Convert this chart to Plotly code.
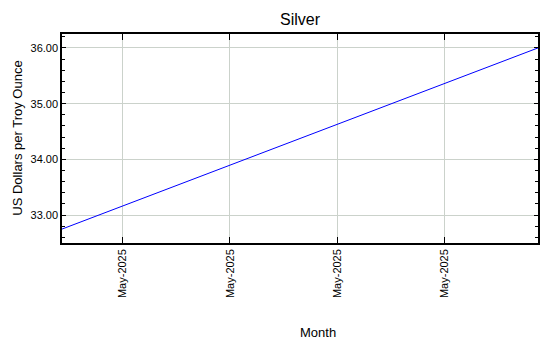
import plotly.graph_objects as go

# Data
dates = ["2025-05-01 10:26", "2025-05-05 20:53"]
prices = [32.75, 36.00]
tick_dates = ["2025-05-02", "2025-05-03", "2025-05-04", "2025-05-05"]
tick_labels = ["May-2025", "May-2025", "May-2025", "May-2025"]
y_ticks = [33.0, 34.0, 35.0, 36.0]
y_tick_labels = ["33.00", "34.00", "35.00", "36.00"]

FONT = "Liberation Sans, Arial, sans-serif"
W, H = 550, 350
L, R, T, B = 62, 10, 34, 107
pw, ph = W - L - R, H - T - B

fig = go.Figure()
fig.add_trace(go.Scatter(x=dates, y=prices, mode="lines",
                         line=dict(color="#0000ff", width=1), showlegend=False))

fig.update_layout(
    width=W, height=H,
    margin=dict(l=L, r=R, t=T, b=B),
    paper_bgcolor="white", plot_bgcolor="white",
    font=dict(family=FONT, size=11, color="black"),
    title=dict(text="Silver", x=300 / W, xanchor="center",
               y=1 - 19 / H, yanchor="middle",
               font=dict(family=FONT, size=16, color="black")),
)
fig.update_xaxes(
    type="date", range=[dates[0], dates[-1]],
    tickmode="array", tickvals=tick_dates, ticktext=tick_labels,
    tickangle=-90, ticks="inside", ticklen=6, tickcolor="black",
    showline=True, linecolor="black", linewidth=1.5, mirror="allticks",
    showgrid=True, gridcolor="#cbd2cb", gridwidth=1, zeroline=False,
    tickfont=dict(family=FONT, size=11, color="black"),
)
fig.update_yaxes(
    range=[32.5, 36.25],
    tickmode="array", tickvals=y_ticks, ticktext=y_tick_labels,
    ticks="inside", ticklen=4, tickcolor="black",
    minor=dict(ticks="inside", ticklen=3, dtick=0.2, tickcolor="black", showgrid=False),
    showline=True, linecolor="black", linewidth=1.5, mirror="allticks",
    showgrid=True, gridcolor="#cbd2cb", gridwidth=1, zeroline=False,
    tickfont=dict(family=FONT, size=11, color="black"),
)
fig.add_annotation(text="Month", xref="paper", yref="paper",
                   x=(319 - L) / pw, y=-(332 - (T + ph)) / ph,
                   xanchor="center", yanchor="middle", showarrow=False,
                   font=dict(family=FONT, size=13, color="black"))
fig.add_annotation(text="US Dollars per Troy Ounce", xref="paper", yref="paper",
                   x=(17 - L) / pw, y=0.5, textangle=-90,
                   xanchor="center", yanchor="middle", showarrow=False,
                   font=dict(family=FONT, size=13, color="black"))

fig.write_html("out.html")
